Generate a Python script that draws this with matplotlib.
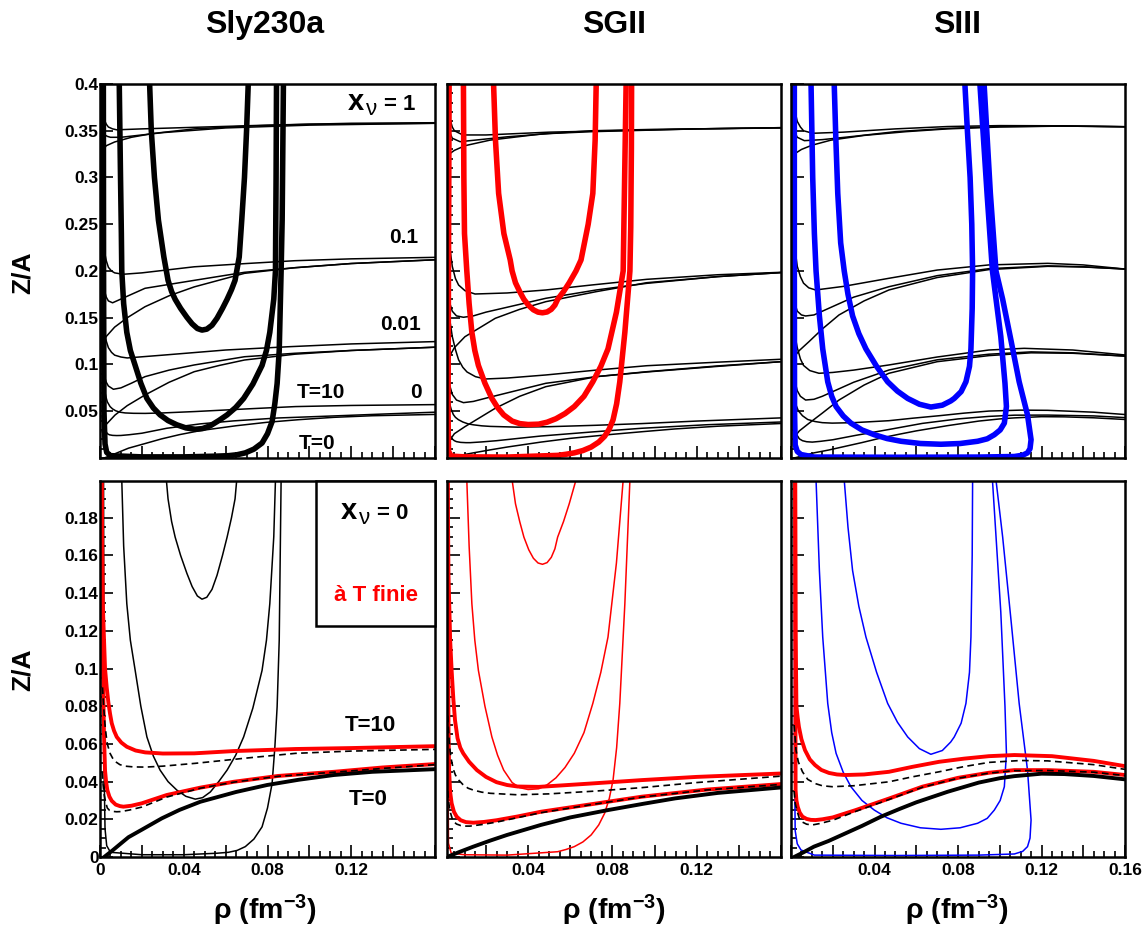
import matplotlib
matplotlib.use("Agg")
import matplotlib.pyplot as plt
import numpy as np
from matplotlib.ticker import MultipleLocator, FuncFormatter
from matplotlib.patches import Rectangle

plt.rcParams['font.family'] = ['Liberation Sans', 'DejaVu Sans']
plt.rcParams['font.weight'] = 'bold'
plt.rcParams['mathtext.fontset'] = 'custom'
plt.rcParams['mathtext.rm'] = 'Liberation Sans:bold'
plt.rcParams['mathtext.bf'] = 'Liberation Sans:bold'
plt.rcParams['mathtext.default'] = 'rm'

# ---------------- data : (rho [fm^-3], Z/A) ----------------
# Sly230a
sly_spin_a = [(0.0237,0.4),(0.0245,0.35),(0.026,0.30),(0.0279,0.2545),(0.0305,0.215),(0.0325,0.19),(0.0342,0.178),
              (0.0359,0.1697),(0.0385,0.16),(0.0415,0.1505),(0.044,0.1435),(0.0465,0.1385),(0.0487,0.1368),
              (0.051,0.1378),(0.0535,0.142),(0.0559,0.1495),(0.0585,0.16),(0.0607,0.1697),(0.0628,0.18),(0.0645,0.19),
              (0.0665,0.215),(0.0677,0.2545),(0.069,0.30),(0.070,0.35),(0.0708,0.4)]
sly_spin_b = [(0.0092,0.4),(0.0098,0.3),(0.0102,0.24),(0.0104,0.2),(0.0113,0.165),(0.0128,0.1344),(0.0145,0.115),
              (0.0168,0.099),(0.0195,0.08),(0.0224,0.0637),(0.0255,0.0535),(0.0287,0.0461),(0.0325,0.0400),
              (0.0367,0.0355),(0.041,0.0322),(0.0455,0.0307),(0.049,0.0315),(0.0527,0.0345),(0.0567,0.040),
              (0.0607,0.0461),(0.0648,0.054),(0.0686,0.0637),(0.073,0.079),(0.0774,0.099),(0.0795,0.115),
              (0.0811,0.1344),(0.083,0.17),(0.0838,0.2),(0.0841,0.3),(0.0843,0.4)]
sly_spin_c = [(0.0016,0.4),(0.0017,0.2),(0.0019,0.05),(0.0024,0.015),(0.0032,0.006),(0.005,0.0025),(0.02,0.0012),
              (0.04,0.0012),(0.0559,0.002),(0.0614,0.0025),(0.0655,0.0035),(0.0694,0.0055),(0.0735,0.0095),
              (0.0774,0.016),(0.080,0.026),(0.0822,0.039),(0.0835,0.058),(0.0846,0.0797),(0.0856,0.115),
              (0.0865,0.2),(0.087,0.2545),(0.0876,0.4)]
sly_x1_hot = [(0.0012,0.375),(0.002,0.362),(0.003,0.357),(0.004,0.354),(0.006,0.352),(0.008,0.351),(0.02,0.352),
              (0.05,0.354),(0.08,0.356),(0.12,0.358),(0.16,0.3586)]
sly_x1_mid = [(0.001,0.352),(0.002,0.346),(0.0035,0.344),(0.005,0.343),(0.01,0.343),(0.03,0.348),(0.06,0.353),
              (0.1,0.356),(0.16,0.358)]
sly_x1_cold = [(0.001,0.328),(0.003,0.334),(0.007,0.338),(0.015,0.343),(0.025,0.347),(0.045,0.352),(0.07,0.355),
               (0.1,0.357),(0.16,0.358)]
sly_x01_hot = [(0.0012,0.24),(0.002,0.222),(0.003,0.211),(0.004,0.204),(0.0055,0.2),(0.007,0.198),(0.011,0.1965),
               (0.02,0.198),(0.045,0.2045),(0.07,0.208),(0.093,0.211),(0.12,0.213),(0.16,0.2146)]
sly_x01_mid = [(0.001,0.195),(0.002,0.18),(0.003,0.172),(0.004,0.168),(0.006,0.166),(0.01,0.170),(0.0215,0.1815),
               (0.045,0.190),(0.069,0.1986),(0.093,0.2035),(0.12,0.208),(0.16,0.212)]
sly_x01_cold = [(0.001,0.122),(0.003,0.130),(0.007,0.140),(0.013,0.150),(0.0215,0.1618),(0.033,0.1735),(0.045,0.183),
                (0.069,0.1975),(0.093,0.2035),(0.12,0.208),(0.16,0.212)]
sly_x001_hot = [(0.0012,0.150),(0.002,0.135),(0.003,0.125),(0.004,0.118),(0.0055,0.113),(0.007,0.110),(0.01,0.108),
                (0.013,0.107),(0.03,0.110),(0.06,0.1155),(0.09,0.119),(0.12,0.122),(0.16,0.1245)]
sly_x001_mid = [(0.001,0.10),(0.002,0.088),(0.003,0.081),(0.004,0.077),(0.0064,0.0735),(0.01,0.075),(0.015,0.080),
                (0.0215,0.087),(0.033,0.094),(0.045,0.0995),(0.069,0.1083),(0.093,0.112),(0.12,0.115),(0.16,0.1185)]
sly_x001_cold = [(0.001,0.028),(0.003,0.036),(0.0072,0.046),(0.013,0.056),(0.0215,0.0674),(0.033,0.081),(0.045,0.0923),
                 (0.057,0.099),(0.069,0.1048),(0.093,0.111),(0.12,0.115),(0.16,0.1185)]
sly_x0_hot = [(0.0012,0.09),(0.0018,0.079),(0.0024,0.07),(0.003,0.064),(0.0035,0.06),(0.0048,0.055),(0.006,0.0525),
              (0.0075,0.0505),(0.0095,0.049),(0.012,0.0482),(0.016,0.0478),(0.0216,0.0477),(0.03,0.0482),
              (0.0455,0.0497),(0.07,0.0525),(0.0934,0.055),(0.12,0.0562),(0.16,0.0571)]
sly_x0_mid = [(0.001,0.045),(0.0015,0.038),(0.002,0.033),(0.0027,0.029),(0.0035,0.026),(0.0045,0.0248),(0.006,0.0242),
              (0.008,0.024),(0.01,0.0241),(0.014,0.0249),(0.02,0.0265),(0.0319,0.0318),(0.0479,0.0365),
              (0.0638,0.0397),(0.085,0.0428),(0.1117,0.045),(0.135,0.047),(0.16,0.049)]
sly_t0 = [(0.002,0.0),(0.006,0.0035),(0.01,0.0072),(0.0136,0.0105),(0.02,0.0145),(0.0295,0.0205),(0.038,0.025),
          (0.0479,0.0293),(0.065,0.0345),(0.0798,0.0382),(0.095,0.041),(0.1117,0.0435),(0.13,0.0452),(0.16,0.0466)]
sly_fin_hot = [(0.0008,0.2),(0.0013,0.135),(0.0024,0.1),(0.0032,0.09),(0.004,0.082),(0.0048,0.076),(0.0056,0.071),
               (0.0067,0.067),(0.008,0.0637),(0.0102,0.0607),(0.0128,0.0585),(0.017,0.0565),(0.0216,0.0555),
               (0.03,0.0549),(0.045,0.055),(0.0638,0.0562),(0.0934,0.0573),(0.12,0.0578),(0.16,0.0588)]
sly_fin_mid = [(0.0008,0.2),(0.0012,0.12),(0.0016,0.085),(0.0019,0.065),(0.0024,0.046),(0.0029,0.04),(0.0035,0.0355),
               (0.0045,0.032),(0.0056,0.0298),(0.0075,0.0278),(0.0095,0.027),(0.0112,0.0267),(0.015,0.0272),
               (0.02,0.0285),(0.0319,0.0329),(0.0479,0.0368),(0.0638,0.0399),(0.085,0.043),(0.1117,0.0452),
               (0.135,0.0475),(0.16,0.0493)]

# SGII
sg2_spin_a = [(0.0236,0.4),(0.0245,0.34),(0.026,0.283),(0.0285,0.24),(0.0315,0.2118),(0.0324,0.2),(0.034,0.1874),
              (0.036,0.178),(0.038,0.1697),(0.0403,0.163),(0.0425,0.1585),(0.0447,0.156),(0.0468,0.1553),
              (0.049,0.1562),(0.051,0.159),(0.0527,0.1635),(0.054,0.1697),(0.0568,0.178),(0.0595,0.1874),
              (0.0627,0.2),(0.0651,0.2118),(0.0685,0.25),(0.0707,0.283),(0.0718,0.34),(0.0723,0.4)]
sg2_spin_b = [(0.0093,0.4),(0.0095,0.3),(0.0098,0.24),(0.0109,0.2),(0.012,0.165),(0.0133,0.1344),(0.0147,0.115),
              (0.0164,0.099),(0.0195,0.08),(0.0228,0.0637),(0.0255,0.054),(0.0284,0.0461),(0.0324,0.0395),
              (0.036,0.0368),(0.040,0.0358),(0.045,0.0362),(0.049,0.0383),(0.0532,0.042),(0.0575,0.0475),
              (0.0619,0.055),(0.0665,0.066),(0.0707,0.0815),(0.0745,0.098),(0.0779,0.1167),(0.0819,0.156),
              (0.0851,0.2),(0.0858,0.3),(0.0865,0.4)]
sg2_spin_c = [(0.0025,0.4),(0.0022,0.2),(0.002,0.05),(0.0022,0.0073),(0.0035,0.002),(0.01,0.0012),(0.03,0.001),
              (0.054,0.0028),(0.058,0.004),(0.0619,0.0055),(0.066,0.008),(0.0699,0.0117),(0.0735,0.017),
              (0.0763,0.0232),(0.0785,0.031),(0.0803,0.0408),(0.082,0.058),(0.0835,0.0815),(0.0859,0.1344),
              (0.0883,0.2),(0.0887,0.247),(0.089,0.33),(0.0891,0.4)]
sg2_x1_hot = [(0.0025,0.375),(0.003,0.362),(0.004,0.354),(0.005,0.350),(0.009,0.3455),(0.02,0.3455),(0.05,0.3485),
              (0.08,0.350),(0.12,0.352),(0.16,0.3533)]
sg2_x1_mid = [(0.0025,0.35),(0.004,0.342),(0.0077,0.3383),(0.015,0.340),(0.03,0.3435),(0.05,0.347),(0.07,0.349),
              (0.12,0.352),(0.16,0.3533)]
sg2_x1_cold = [(0.0025,0.325),(0.005,0.329),(0.01,0.334),(0.022,0.340),(0.046,0.3465),(0.07,0.350),(0.1,0.3515),
               (0.16,0.353)]
sg2_x01_hot = [(0.0025,0.24),(0.003,0.222),(0.004,0.205),(0.0055,0.192),(0.007,0.185),(0.01,0.179),(0.0148,0.1754),
               (0.03,0.1765),(0.0484,0.1797),(0.07,0.185),(0.0963,0.1911),(0.13,0.196),(0.16,0.1986)]
sg2_x01_mid = [(0.0025,0.168),(0.004,0.157),(0.006,0.152),(0.0093,0.1505),(0.014,0.152),(0.02,0.156),(0.0484,0.1708),
               (0.0723,0.1797),(0.0963,0.1868),(0.13,0.194),(0.16,0.1983)]
sg2_x01_cold = [(0.0025,0.108),(0.005,0.118),(0.01,0.1297),(0.0244,0.1494),(0.036,0.159),(0.0484,0.1672),
                (0.0723,0.1779),(0.0963,0.1875),(0.13,0.194),(0.16,0.1983)]
sg2_x001_hot = [(0.0025,0.16),(0.003,0.145),(0.004,0.13),(0.0055,0.116),(0.007,0.105),(0.009,0.097),(0.011,0.092),
                (0.015,0.087),(0.0196,0.0845),(0.03,0.0855),(0.0484,0.0888),(0.0723,0.094),(0.0963,0.0987),
                (0.13,0.1025),(0.16,0.1056)]
sg2_x001_mid = [(0.0025,0.08),(0.004,0.068),(0.006,0.062),(0.0093,0.0592),(0.014,0.0605),(0.02,0.064),(0.0484,0.0799),
                (0.0723,0.087),(0.0963,0.0923),(0.13,0.0985),(0.16,0.103)]
sg2_x001_cold = [(0.0025,0.018),(0.005,0.026),(0.01,0.0335),(0.0244,0.0532),(0.036,0.066),(0.0484,0.0763),
                 (0.0723,0.087),(0.0963,0.092),(0.13,0.098),(0.16,0.103)]
sg2_x0_hot = [(0.0018,0.075),(0.0025,0.062),(0.003,0.056),(0.0035,0.052),(0.0045,0.0465),(0.0055,0.0435),
              (0.0069,0.041),(0.009,0.0385),(0.0115,0.0365),(0.014,0.0355),(0.018,0.0344),(0.022,0.0338),
              (0.035,0.033),(0.05,0.0335),(0.0723,0.035),(0.0939,0.0368),(0.12,0.0395),(0.16,0.0429)]
sg2_x0_mid = [(0.0018,0.035),(0.0023,0.029),(0.003,0.024),(0.004,0.0203),(0.005,0.0185),(0.006,0.0175),
              (0.008,0.0167),(0.0105,0.0164),(0.0125,0.0164),(0.018,0.0172),(0.025,0.0185),(0.046,0.0235),
              (0.07,0.0278),(0.0939,0.0318),(0.125,0.0356),(0.16,0.0385)]
sg2_t0 = [(0.0015,0.0),(0.007,0.0025),(0.014,0.0055),(0.022,0.0087),(0.03,0.0117),(0.046,0.017),(0.06,0.021),
          (0.0779,0.0249),(0.095,0.0283),(0.1098,0.0311),(0.13,0.034),(0.16,0.0369)]
sg2_fin_hot = [(0.0018,0.2),(0.0022,0.15),(0.003,0.115),(0.0037,0.099),(0.0045,0.084),(0.0053,0.0726),(0.0065,0.063),
               (0.0078,0.058),(0.0092,0.055),(0.012,0.0505),(0.0157,0.0461),(0.02,0.0425),(0.025,0.0397),
               (0.03,0.0382),(0.035,0.0374),(0.045,0.0372),(0.07,0.039),(0.0939,0.0408),(0.12,0.0425),(0.16,0.0443)]
sg2_fin_mid = [(0.0018,0.2),(0.002,0.12),(0.0022,0.07),(0.0025,0.046),(0.003,0.0345),(0.0037,0.0285),(0.0048,0.024),
               (0.0061,0.0214),(0.008,0.0195),(0.0105,0.0185),(0.014,0.0182),(0.019,0.0186),(0.025,0.0195),
               (0.035,0.0215),(0.046,0.024),(0.07,0.028),(0.0939,0.032),(0.125,0.0358),(0.16,0.0387)]

# SIII
s3_spin_a = [(0.0207,0.4),(0.0215,0.34),(0.0224,0.283),(0.0238,0.23),(0.0255,0.2),(0.0273,0.175),(0.0295,0.152),
             (0.0325,0.133),(0.0359,0.1167),(0.041,0.098),(0.0463,0.0815),(0.051,0.0715),(0.0559,0.0637),
             (0.0615,0.0575),(0.067,0.0545),(0.0725,0.0565),(0.0765,0.061),(0.0782,0.0637),(0.0815,0.071),
             (0.0838,0.0815),(0.0855,0.098),(0.0862,0.1167),(0.0868,0.16),(0.087,0.2),(0.0866,0.25),(0.0858,0.3),
             (0.0845,0.35),(0.0833,0.4)]
s3_spin_b = [(0.0096,0.4),(0.0104,0.3),(0.0112,0.24),(0.012,0.2),(0.0136,0.152),(0.0152,0.1167),(0.0176,0.0815),
             (0.0195,0.066),(0.0216,0.055),(0.025,0.045),(0.0287,0.0373),(0.034,0.030),(0.0399,0.0249),
             (0.046,0.0208),(0.0527,0.0179),(0.062,0.0155),(0.0718,0.0147),(0.081,0.0155),(0.0894,0.0179),
             (0.094,0.0205),(0.0974,0.0249),(0.1002,0.030),(0.1022,0.0373),(0.1032,0.055),(0.1025,0.08),
             (0.1005,0.13),(0.0965,0.2),(0.094,0.28),(0.0905,0.4)]
s3_spin_c = [(0.0016,0.4),(0.0016,0.2),(0.0017,0.05),(0.002,0.014),(0.003,0.007),(0.0048,0.0037),(0.0112,0.001),
             (0.05,0.0008),(0.09,0.001),(0.107,0.0016),(0.111,0.003),(0.1133,0.0055),(0.1145,0.01),(0.115,0.0196),
             (0.1133,0.0461),(0.1093,0.0815),(0.1054,0.1256),(0.1014,0.1697),(0.0982,0.2),(0.0955,0.283),
             (0.0925,0.4)]
s3_x1_hot = [(0.0015,0.375),(0.003,0.36),(0.0045,0.354),(0.006,0.350),(0.0104,0.3473),(0.025,0.3485),(0.05,0.352),
             (0.075,0.3545),(0.1,0.3555),(0.13,0.3553),(0.16,0.3543)]
s3_x1_mid = [(0.0015,0.35),(0.003,0.343),(0.0064,0.3394),(0.015,0.3405),(0.03,0.344),(0.05,0.349),(0.075,0.3525),
             (0.1,0.3545),(0.13,0.355),(0.16,0.3543)]
s3_x1_cold = [(0.0015,0.325),(0.005,0.330),(0.01,0.3345),(0.0192,0.340),(0.035,0.345),(0.055,0.349),(0.075,0.352),
              (0.1,0.354),(0.13,0.355),(0.16,0.3543)]
s3_x01_hot = [(0.0015,0.235),(0.002,0.222),(0.003,0.205),(0.0045,0.194),(0.006,0.187),(0.0085,0.182),(0.0118,0.1797),
              (0.025,0.1835),(0.0469,0.1922),(0.07,0.201),(0.0948,0.2065),(0.123,0.2082),(0.14,0.2065),(0.16,0.2021)]
s3_x01_mid = [(0.0015,0.168),(0.003,0.157),(0.005,0.153),(0.007,0.1519),(0.011,0.153),(0.015,0.157),(0.03,0.172),
              (0.0469,0.1832),(0.07,0.195),(0.0948,0.2025),(0.123,0.2055),(0.14,0.2045),(0.16,0.2021)]
s3_x01_cold = [(0.0015,0.108),(0.004,0.115),(0.0086,0.1244),(0.015,0.138),(0.023,0.153),(0.035,0.168),(0.0469,0.1797),
               (0.07,0.193),(0.0948,0.2015),(0.123,0.205),(0.14,0.2043),(0.16,0.2021)]
s3_x001_hot = [(0.0015,0.14),(0.002,0.13),(0.003,0.118),(0.0045,0.106),(0.006,0.099),(0.009,0.0935),(0.0134,0.0906),
               (0.02,0.0915),(0.03,0.094),(0.0469,0.0995),(0.07,0.108),(0.0948,0.1155),(0.1117,0.1173),(0.135,0.1155),
               (0.16,0.1102)]
s3_x001_mid = [(0.0015,0.09),(0.002,0.081),(0.003,0.072),(0.0045,0.066),(0.007,0.062),(0.011,0.0628),(0.015,0.066),
               (0.03,0.081),(0.0469,0.0941),(0.07,0.105),(0.0948,0.111),(0.115,0.1135),(0.135,0.1125),(0.16,0.109)]
s3_x001_cold = [(0.0015,0.022),(0.004,0.029),(0.0086,0.0371),(0.015,0.048),(0.023,0.062),(0.035,0.078),(0.0469,0.0906),
                (0.07,0.103),(0.0948,0.1095),(0.115,0.1125),(0.135,0.112),(0.16,0.109)]
s3_x0_hot = [(0.0015,0.07),(0.0024,0.0567),(0.0035,0.0505),(0.0055,0.0452),(0.008,0.0412),(0.0115,0.039),
             (0.015,0.0378),(0.0197,0.0373),(0.03,0.0378),(0.0469,0.0399),(0.058,0.0425),(0.0709,0.0452),
             (0.083,0.048),(0.0948,0.0502),(0.11,0.0512),(0.123,0.051),(0.145,0.049),(0.16,0.0465)]
s3_x0_mid = [(0.0015,0.035),(0.002,0.0285),(0.003,0.024),(0.004,0.0205),(0.0055,0.0185),(0.0075,0.0174),
             (0.0102,0.017),(0.014,0.0178),(0.02,0.0195),(0.031,0.0242),(0.0469,0.0305),(0.0629,0.037),
             (0.08,0.0418),(0.0948,0.0445),(0.107,0.0458),(0.123,0.0459),(0.145,0.045),(0.16,0.0432)]
s3_t0 = [(0.0015,0.0),(0.006,0.0025),(0.011,0.0055),(0.018,0.0085),(0.025,0.012),(0.034,0.0165),(0.0431,0.0214),
         (0.052,0.0255),(0.06,0.029),(0.075,0.0346),(0.09,0.0395),(0.1,0.0418),(0.107,0.0429),(0.12,0.0442),
         (0.131,0.044),(0.145,0.043),(0.16,0.0412)]
s3_fin_hot = [(0.002,0.2),(0.0022,0.12),(0.0026,0.08),(0.0032,0.074),(0.0038,0.069),(0.005,0.0625),(0.0067,0.0567),
              (0.009,0.0518),(0.0115,0.0488),(0.0145,0.0462),(0.0182,0.0446),(0.022,0.0438),(0.0262,0.0435),
              (0.035,0.0438),(0.0469,0.0452),(0.058,0.0478),(0.0709,0.0505),(0.083,0.0522),(0.0948,0.0535),
              (0.107,0.0541),(0.125,0.0535),(0.145,0.051),(0.16,0.0482)]
s3_fin_mid = [(0.002,0.2),(0.0021,0.1),(0.0022,0.0355),(0.0026,0.030),(0.0032,0.0267),(0.0042,0.0235),(0.0055,0.0214),
              (0.0075,0.0202),(0.0095,0.0197),(0.0118,0.0196),(0.015,0.0200),(0.02,0.021),(0.031,0.0249),
              (0.0469,0.031),(0.0629,0.0373),(0.08,0.042),(0.0948,0.0447),(0.107,0.0461),(0.123,0.0461),
              (0.145,0.0452),(0.16,0.0435)]

models = ["Sly230a", "SGII", "SIII"]
colors = ["black", "red", "blue"]
spinodals = [(sly_spin_a, sly_spin_b, sly_spin_c), (sg2_spin_a, sg2_spin_b, sg2_spin_c), (s3_spin_a, s3_spin_b, s3_spin_c)]
beta_lines = [
    (sly_x1_hot, sly_x1_mid, sly_x1_cold, sly_x01_hot, sly_x01_mid, sly_x01_cold,
     sly_x001_hot, sly_x001_mid, sly_x001_cold, sly_x0_hot, sly_x0_mid, sly_t0),
    (sg2_x1_hot, sg2_x1_mid, sg2_x1_cold, sg2_x01_hot, sg2_x01_mid, sg2_x01_cold,
     sg2_x001_hot, sg2_x001_mid, sg2_x001_cold, sg2_x0_hot, sg2_x0_mid, sg2_t0),
    (s3_x1_hot, s3_x1_mid, s3_x1_cold, s3_x01_hot, s3_x01_mid, s3_x01_cold,
     s3_x001_hot, s3_x001_mid, s3_x001_cold, s3_x0_hot, s3_x0_mid, s3_t0),
]
finite_t = [(sly_fin_hot, sly_fin_mid), (sg2_fin_hot, sg2_fin_mid), (s3_fin_hot, s3_fin_mid)]
dashed = [(sly_x0_hot, sly_x0_mid), (sg2_x0_hot, sg2_x0_mid), (s3_x0_hot, s3_x0_mid)]
cold = [sly_t0, sg2_t0, s3_t0]
xlims = [(0.0, 0.16), (0.0015, 0.16), (0.0, 0.16)]


def xy(pts):
    a = np.array(pts)
    return a[:, 0], a[:, 1]


W, H = 1146, 930
col_px = [(100, 435), (447, 781), (791, 1125)]
row_px = [(84, 458), (481, 857)]


def box(c, r):
    l, rr = col_px[c]
    t, b = row_px[r]
    return [l / W, 1 - b / H, (rr - l) / W, (b - t) / H]


def style(ax, c, r):
    ax.set_xlim(*xlims[c])
    ax.xaxis.set_major_locator(MultipleLocator(0.02))
    ax.xaxis.set_minor_locator(MultipleLocator(0.005))
    if r == 0:
        ax.set_ylim(0, 0.4)
        ax.yaxis.set_major_locator(MultipleLocator(0.05))
        ax.yaxis.set_minor_locator(MultipleLocator(0.01))
    else:
        ax.set_ylim(0, 0.1995)
        ax.yaxis.set_major_locator(MultipleLocator(0.02))
        ax.yaxis.set_minor_locator(MultipleLocator(0.005))
    ax.tick_params(which='both', direction='in', top=False, right=False, width=1.2, labelsize=12.5)
    ax.tick_params(which='major', length=9)
    ax.tick_params(which='minor', length=4.5)
    ax.tick_params(axis='y', pad=1)
    ax.tick_params(axis='x', pad=4)

    def xfmt(v, p):
        if r == 0:
            return ''
        k = round(v / 0.04, 6)
        if abs(k - round(k)) > 1e-6:
            return ''
        if c < 2 and v > 0.155:
            return ''
        if c == 2 and v < 1e-6:
            return ''
        return '%g' % round(v, 3)

    def yfmt(v, p):
        if c != 0:
            return ''
        if r == 0 and v < 1e-6:
            return ''
        return '%g' % round(v, 3)

    ax.xaxis.set_major_formatter(FuncFormatter(xfmt))
    ax.yaxis.set_major_formatter(FuncFormatter(yfmt))
    for s in ax.spines.values():
        s.set_linewidth(1.8)


def xnu(ax, x0, y0, val):
    ax.text(x0, y0, 'x', fontsize=21, fontweight='bold', transform=ax.transAxes, va='baseline', zorder=6)
    ax.text(x0 + 0.054, y0 - 0.014, 'ν', fontsize=16, fontweight='normal', transform=ax.transAxes,
            va='baseline', zorder=6)
    ax.text(x0 + 0.108, y0, '= ' + val, fontsize=16, fontweight='bold', transform=ax.transAxes,
            va='baseline', zorder=6)


fig = plt.figure(figsize=(W / 100, H / 100), dpi=100)

for c in range(3):
    # top row: beta-equilibrium lines for x_nu = 1, 0.1, 0.01, 0 and spinodal contours
    ax = fig.add_axes(box(c, 0))
    for line in beta_lines[c]:
        ax.plot(*xy(line), color='black', lw=1.1)
    for sp in spinodals[c]:
        ax.plot(*xy(sp), color=colors[c], lw=4.0, solid_joinstyle='round')
    style(ax, c, 0)

    # bottom row: x_nu = 0, finite temperature
    ax2 = fig.add_axes(box(c, 1))
    for sp in spinodals[c]:
        ax2.plot(*xy(sp), color=colors[c], lw=1.1)
    for fl in finite_t[c]:
        ax2.plot(*xy(fl), color='red', lw=2.8, solid_joinstyle='round')
    for dl in dashed[c]:
        ax2.plot(*xy(dl), color='black', lw=1.2, ls=(0, (4, 2.6)))
    ax2.plot(*xy(cold[c]), color='black', lw=2.8, solid_joinstyle='round')
    style(ax2, c, 1)

    if c == 0:
        xnu(ax, 0.74, 0.93, '1')
        ax.text(0.907, 0.590, '0.1', fontsize=15, ha='center', va='center', transform=ax.transAxes)
        ax.text(0.898, 0.356, '0.01', fontsize=15, ha='center', va='center', transform=ax.transAxes)
        ax.text(0.659, 0.175, 'T=10', fontsize=15, ha='center', va='center', transform=ax.transAxes)
        ax.text(0.943, 0.175, '0', fontsize=15, ha='center', va='center', transform=ax.transAxes)
        ax.text(0.647, 0.040, 'T=0', fontsize=15, ha='center', va='center', transform=ax.transAxes)

        ax2.add_patch(Rectangle((0.644, 0.614), 0.356, 0.386, transform=ax2.transAxes, facecolor='white',
                                edgecolor='black', lw=1.8, zorder=5, clip_on=False))
        xnu(ax2, 0.719, 0.90, '0')
        ax2.text(0.823, 0.695, 'à T finie', color='red', fontsize=16, ha='center', va='center',
                 transform=ax2.transAxes, zorder=6)
        ax2.text(0.808, 0.351, 'T=10', fontsize=16, ha='center', va='center', transform=ax2.transAxes)
        ax2.text(0.801, 0.154, 'T=0', fontsize=16, ha='center', va='center', transform=ax2.transAxes)

title_x = [265, 614, 957]
for c in range(3):
    fig.text(title_x[c] / W, 1 - 25 / H, models[c], fontsize=23, ha='center', va='center')
    fig.text(title_x[c] / W, 1 - 910 / H, 'ρ (fm$^{-3}$)', fontsize=20.5, ha='center', va='center')

fig.text(23 / W, 1 - 273 / H, 'Z/A', fontsize=19, rotation=90, ha='center', va='center')
fig.text(23 / W, 1 - 670 / H, 'Z/A', fontsize=19, rotation=90, ha='center', va='center')

fig.savefig('out.png', dpi=100)
